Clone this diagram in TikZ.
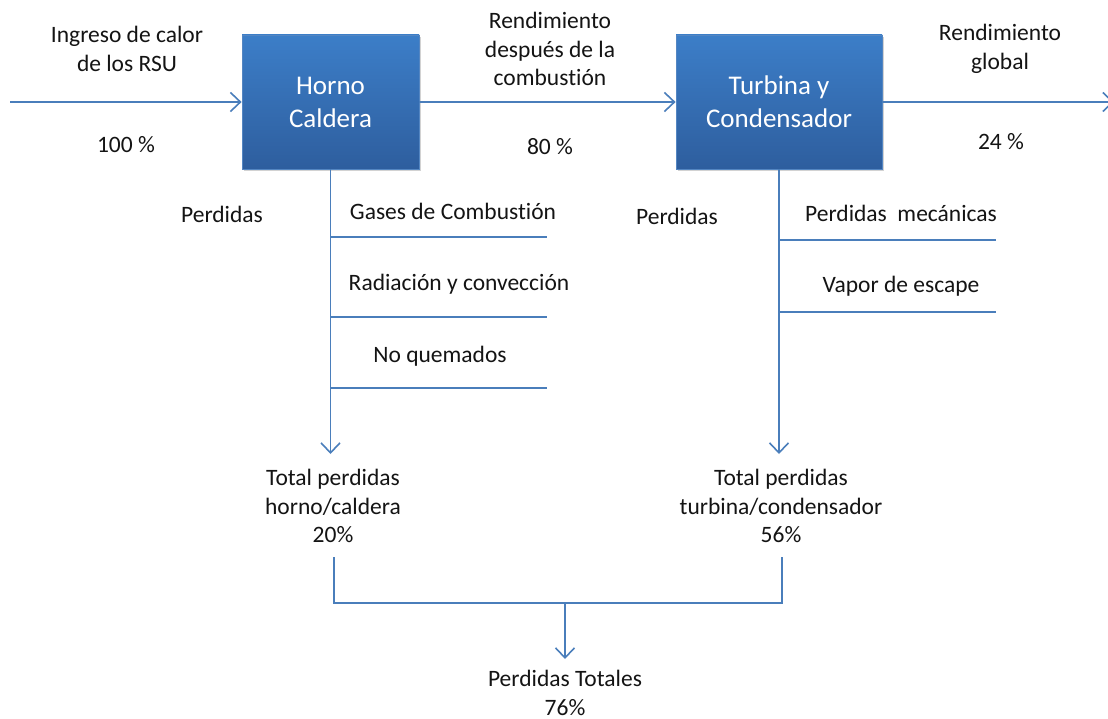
\documentclass[tikz,border=0pt]{standalone}
\usepackage{fontspec}
\setmainfont{Carlito}[Ligatures=NoCommon]
\usetikzlibrary{arrows.meta,shadows}
\definecolor{lineblue}{RGB}{74,126,187}
\definecolor{boxtop}{RGB}{60,126,200}
\definecolor{boxbot}{RGB}{46,94,158}
\definecolor{boxedge}{RGB}{84,134,194}
\definecolor{txt}{RGB}{20,20,20}
\begin{document}
\begin{tikzpicture}[x=1pt,y=-1pt,
  conn/.style={draw=lineblue, line width=1.6pt},
  arr/.style={conn, -{Straight Barb[length=10pt,width=19pt,line width=1.6pt]}},
  lbl/.style={font=\fontsize{23.5}{28.5}\selectfont, align=center, inner sep=0pt, text=txt},
  procbox/.style={draw=boxedge, line width=0.8pt, top color=boxtop, bottom color=boxbot,
    minimum height=134pt, inner sep=0pt, text=white, align=center,
    font=\fontsize{27}{33}\selectfont,
    drop shadow={opacity=0.35, shadow xshift=1.5pt, shadow yshift=-2pt}}]
\useasboundingbox (0,0) rectangle (1108,719);
\fill[white] (0,0) rectangle (1108,719);

% process boxes
\node[procbox, minimum width=177pt] (horno) at (330.5,102) {Horno\\Caldera};
\node[procbox, minimum width=206pt] (turbina) at (779,102) {Turbina y\\Condensador};

% main flow
\coordinate (inicio) at (10,102);
\coordinate (fin) at (1114,102);
\draw[arr] (inicio) -- (horno.west);
\draw[arr] (horno.east) -- (turbina.west);
\draw[arr] (turbina.east) -- (fin);

% top labels
\node[lbl] (ingreso) at (127,49) {Ingreso de calor\\de los RSU};
\node[lbl] (p100) at (126,145) {100 \%};
\node[lbl] (rend1) at (550,49) {Rendimiento\\después de la\\combustión};
\node[lbl] (p80) at (550,147) {80 \%};
\node[lbl] (rendg) at (1000,49) {Rendimiento\\global};
\node[lbl] (p24) at (1001,142) {24 \%};

% losses of furnace / boiler
\coordinate (hfin) at (330.5,454);
\draw[arr] (horno.south) -- (hfin);
\coordinate (ha1) at (330.5,237); \coordinate (hb1) at (547,237);
\coordinate (ha2) at (330.5,317); \coordinate (hb2) at (547,317);
\coordinate (ha3) at (330.5,388); \coordinate (hb3) at (547,388);
\draw[conn] (ha1) -- (hb1);
\draw[conn] (ha2) -- (hb2);
\draw[conn] (ha3) -- (hb3);
\node[lbl] (perd1) at (222,214) {Perdidas};
\node[lbl] (gases) at (453,211) {Gases de Combustión};
\node[lbl] (rad) at (459,284) {Radiación y convección};
\node[lbl] (noq) at (440,356) {No quemados};

% losses of turbine / condenser
\coordinate (tfin) at (779,454);
\draw[arr] (turbina.south) -- (tfin);
\coordinate (ta1) at (779,240); \coordinate (tb1) at (996,240);
\coordinate (ta2) at (779,312); \coordinate (tb2) at (996,312);
\draw[conn] (ta1) -- (tb1);
\draw[conn] (ta2) -- (tb2);
\node[lbl] (perd2) at (677,216) {Perdidas};
\node[lbl] (mec) at (901,213) {Perdidas\hspace{0.45em}mecánicas};
\node[lbl] (vapor) at (901,286) {Vapor de escape};

% totals
\node[lbl] (tot1) at (333,506) {Total perdidas\\horno/caldera\\20\%};
\node[lbl] (tot2) at (781,506) {Total perdidas\\turbina/condensador\\56\%};

\coordinate (b1) at (334,557);
\coordinate (b2) at (782,557);
\coordinate (bj) at (565,603);
\draw[conn] (b1) -- (334,603) -- (782,603) -- (b2);
\node[lbl] (totales) at (565,693) {Perdidas Totales\\76\%};
\coordinate (tottip) at (565,659);
\draw[arr] (bj) -- (tottip);
\end{tikzpicture}
\end{document}
